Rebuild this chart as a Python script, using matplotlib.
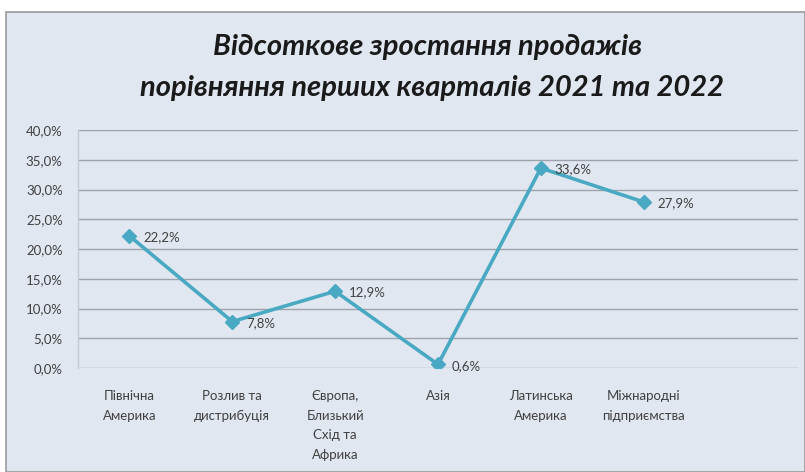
import matplotlib
matplotlib.use("Agg")
import matplotlib.pyplot as plt
from matplotlib.patches import Rectangle
from matplotlib.ticker import FuncFormatter, MultipleLocator

categories = [
    "Північна\nАмерика",
    "Розлив та\nдистрибуція",
    "Європа,\nБлизький\nСхід та\nАфрика",
    "Азія",
    "Латинська\nАмерика",
    "Міжнародні\nпідприємства",
]
growth = [22.2, 7.8, 12.9, 0.6, 33.6, 27.9]
title_lines = ["Відсоткове зростання продажів",
               "порівняння перших кварталів 2021 та 2022"]

bg = "#e1e7f1"
line_col = "#4aa9c2"
text_col = "#404040"

plt.rcParams["font.family"] = ["Lato", "DejaVu Sans"]

fig = plt.figure(figsize=(8.05, 4.72), dpi=100)
fig.patch.set_facecolor("white")
W, H = 805, 472

# chart frame
fig.add_artist(Rectangle((6 / W, 0), (W - 6) / W, (H - 12) / H,
                         transform=fig.transFigure, facecolor=bg,
                         edgecolor="#9a9a9a", linewidth=1.2, zorder=0))

ax = fig.add_axes([78 / W, (H - 368) / H, (798 - 78) / W, (368 - 130) / H])
ax.set_facecolor(bg)
ax.patch.set_alpha(0)

x = list(range(len(growth)))
ax.plot(x, growth, color=line_col, linewidth=2.6, marker="D",
        markersize=7, markerfacecolor=line_col, markeredgecolor=line_col,
        zorder=3)

for xi, v in zip(x, growth):
    ax.annotate(f"{v:.1f}%".replace(".", ","), (xi, v),
                xytext=(10, -1), textcoords="offset points",
                ha="left", va="center", fontsize=9.5, color=text_col)

ax.set_xlim(-0.5, 6.5)
ax.set_ylim(0, 40)
ax.yaxis.set_major_locator(MultipleLocator(5))
ax.yaxis.set_major_formatter(
    FuncFormatter(lambda v, _: f"{v:.1f}%".replace(".", ",")))
ax.grid(axis="y", color="#9ea3ab", linewidth=1.0)
ax.set_axisbelow(True)

ax.set_xticks(x)
ax.set_xticklabels(categories, fontsize=9.5, color=text_col,
                   linespacing=1.75, multialignment="center")
ax.tick_params(axis="x", length=0, pad=16)
ax.tick_params(axis="y", length=0, pad=11, labelsize=9.5, labelcolor=text_col)

for side in ["top", "right", "bottom"]:
    ax.spines[side].set_visible(False)
ax.spines["left"].set_color("#c4c8d0")
ax.spines["left"].set_linewidth(1.0)

fig.text(428 / W, 1 - 47 / H, title_lines[0], ha="center", va="center",
         fontsize=21, fontweight="bold", fontstyle="italic", color="#1a1a1a")
fig.text(432 / W, 1 - 88 / H, title_lines[1], ha="center", va="center",
         fontsize=21, fontweight="bold", fontstyle="italic", color="#1a1a1a")

fig.savefig("out.png", dpi=100, facecolor=fig.get_facecolor())
